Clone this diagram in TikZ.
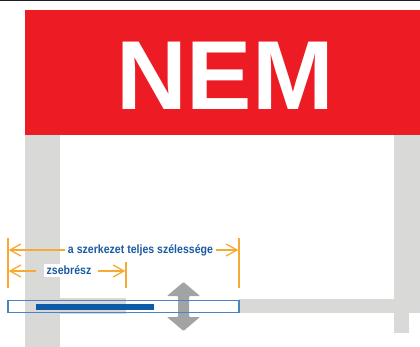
\documentclass[tikz,border=0pt]{standalone}
\usepackage{fontspec}
\setmainfont{Liberation Sans}
\newfontfamily\labfont[FakeStretch=0.88]{Liberation Sans}
\usetikzlibrary{arrows.meta}
\definecolor{signred}{HTML}{ED1C24}
\definecolor{postgray}{HTML}{D9DAD8}
\definecolor{arrgray}{HTML}{A1A3A5}
\definecolor{dimorange}{HTML}{F7AA33}
\definecolor{txtblue}{HTML}{1A5AA0}
\definecolor{barblue}{HTML}{0D5AA7}
\definecolor{rimblue}{HTML}{4A84C4}
\definecolor{topblack}{HTML}{231F20}
\tikzset{
  dimline/.style={draw=dimorange, line width=1.3pt},
  dimtip/.style={dimline, -{Straight Barb[length=11pt,width=12pt]}},
  dimlabel/.style={font=\labfont\bfseries\fontsize{12}{12}\selectfont, text=txtblue, inner xsep=3pt, inner ysep=2pt},
  postfill/.style={fill=postgray, draw=none},
}
\begin{document}
\begin{tikzpicture}[x=1pt,y=-1pt]
\useasboundingbox (0,0) rectangle (420,347);
% top line
\fill[topblack] (0,0) rectangle (420,1.3);
% sign
\fill[signred] (25,10) rectangle (420,135);
\node[anchor=base, inner sep=0pt, text=white, font=\bfseries\fontsize{98}{98}\selectfont] (nem) at (225,110) {NEM};
% posts and bars
\fill[postfill] (25,135) rectangle (60,347);
\fill[postfill] (25,298) rectangle (126,314);
\fill[postfill] (394,135) rectangle (420,313);
\fill[postfill] (394,313) rectangle (409,333);
\fill[postfill] (239,299) rectangle (394,313);
% double arrow
\fill[arrgray, rounded corners=0.8pt] (183.5,282) -- (200,296) -- (189,296) -- (189,317) -- (200,317) -- (183.5,331) -- (167,317) -- (178,317) -- (178,296) -- (167,296) -- cycle;
% blue element
\fill[barblue] (36,304) rectangle (154,310);
\draw[rimblue, line width=1.1pt] (8,300.5) rectangle (239,312.5);
% dimension ticks
\coordinate (lt) at (8,238);
\coordinate (lb) at (8,288);
\coordinate (rt) at (239,238);
\coordinate (rb) at (239,288);
\coordinate (mt) at (126,262);
\coordinate (mb) at (126,288);
\draw[dimline] (lt) -- (lb);
\draw[dimline] (rt) -- (rb);
\draw[dimline] (mt) -- (mb);
% dimension 1
\node[dimlabel, anchor=base] (t1) at (140.5,253.5) {a szerkezet teljes szélessége};
\coordinate (a1l) at (8.6,250);
\coordinate (a1r) at (238.4,250);
\draw[dimtip] (t1.west |- a1l) -- (a1l);
\draw[dimtip] (t1.east |- a1r) -- (a1r);
% dimension 2
\node[dimlabel, anchor=base, fill=white] (t2) at (69,274.5) {zsebrész};
\coordinate (a2l) at (8.6,271);
\coordinate (a2r) at (125.4,271);
\draw[dimtip] ([xshift=-7pt]t2.west |- a2l) -- (a2l);
\draw[dimtip] ([xshift=3pt]t2.east |- a2r) -- (a2r);
\end{tikzpicture}
\end{document}
